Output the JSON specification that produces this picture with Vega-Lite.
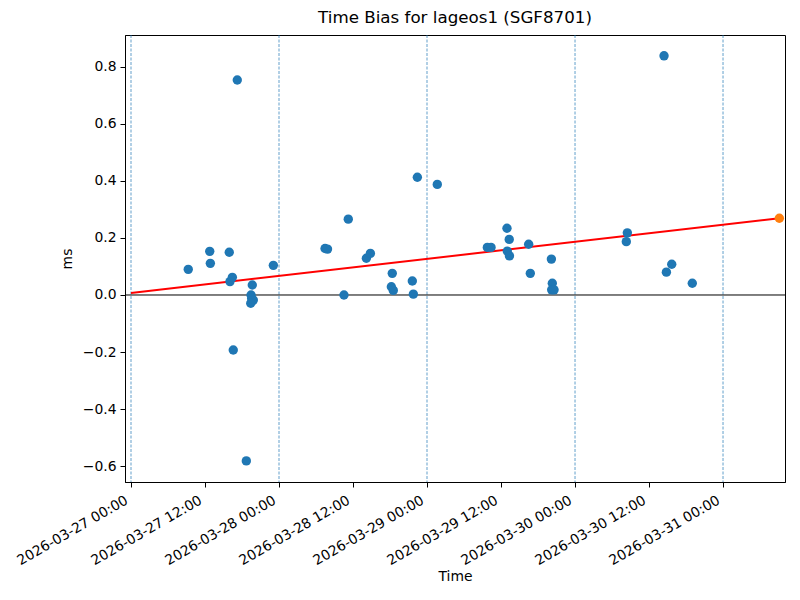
{
  "$schema": "https://vega.github.io/schema/vega-lite/v6.json",
  "width": 660,
  "height": 447,
  "autosize": "none",
  "padding": {"left": 125, "top": 35, "right": 15, "bottom": 118},
  "background": "white",
  "title": {"text": "Time Bias for lageos1 (SGF8701)", "font": "DejaVu Sans", "fontSize": 16.7, "fontWeight": "normal", "color": "black", "offset": 8, "anchor": "middle"},
  "config": {
    "view": {"stroke": "black", "strokeWidth": 1},
    "axis": {"grid": false, "domainColor": "black", "tickColor": "black", "tickSize": 5, "labelColor": "black", "titleColor": "black", "labelFont": "DejaVu Sans", "titleFont": "DejaVu Sans", "labelFontSize": 13.9, "titleFontSize": 13.9, "titleFontWeight": "normal", "labelPadding": 4}
  },
  "datasets": {
    "pts": [
      {"t": "2026-03-27T09:17:00Z", "v": 0.090},
      {"t": "2026-03-27T12:46:00Z", "v": 0.153},
      {"t": "2026-03-27T12:52:00Z", "v": 0.111},
      {"t": "2026-03-27T15:56:00Z", "v": 0.150},
      {"t": "2026-03-27T16:03:00Z", "v": 0.047},
      {"t": "2026-03-27T16:26:00Z", "v": 0.062},
      {"t": "2026-03-27T16:35:00Z", "v": -0.193},
      {"t": "2026-03-27T17:14:00Z", "v": 0.754},
      {"t": "2026-03-27T18:42:00Z", "v": -0.582},
      {"t": "2026-03-27T19:28:00Z", "v": 0.000},
      {"t": "2026-03-27T19:34:00Z", "v": -0.012},
      {"t": "2026-03-27T19:50:00Z", "v": -0.018},
      {"t": "2026-03-27T19:25:00Z", "v": -0.029},
      {"t": "2026-03-27T19:40:00Z", "v": 0.035},
      {"t": "2026-03-27T23:05:00Z", "v": 0.104},
      {"t": "2026-03-28T07:28:00Z", "v": 0.163},
      {"t": "2026-03-28T07:52:00Z", "v": 0.161},
      {"t": "2026-03-28T10:32:00Z", "v": 0.000},
      {"t": "2026-03-28T11:14:00Z", "v": 0.266},
      {"t": "2026-03-28T14:10:00Z", "v": 0.129},
      {"t": "2026-03-28T14:49:00Z", "v": 0.146},
      {"t": "2026-03-28T18:13:00Z", "v": 0.029},
      {"t": "2026-03-28T18:22:00Z", "v": 0.076},
      {"t": "2026-03-28T18:32:00Z", "v": 0.016},
      {"t": "2026-03-28T21:37:00Z", "v": 0.049},
      {"t": "2026-03-28T21:47:00Z", "v": 0.003},
      {"t": "2026-03-28T22:26:00Z", "v": 0.413},
      {"t": "2026-03-29T01:40:00Z", "v": 0.388},
      {"t": "2026-03-29T09:47:00Z", "v": 0.167},
      {"t": "2026-03-29T10:23:00Z", "v": 0.167},
      {"t": "2026-03-29T12:58:00Z", "v": 0.234},
      {"t": "2026-03-29T13:01:00Z", "v": 0.154},
      {"t": "2026-03-29T13:20:00Z", "v": 0.195},
      {"t": "2026-03-29T13:22:00Z", "v": 0.137},
      {"t": "2026-03-29T16:29:00Z", "v": 0.178},
      {"t": "2026-03-29T16:45:00Z", "v": 0.076},
      {"t": "2026-03-29T20:10:00Z", "v": 0.126},
      {"t": "2026-03-29T20:19:00Z", "v": 0.041},
      {"t": "2026-03-29T20:13:00Z", "v": 0.018},
      {"t": "2026-03-29T20:36:00Z", "v": 0.018},
      {"t": "2026-03-30T08:19:00Z", "v": 0.187},
      {"t": "2026-03-30T08:29:00Z", "v": 0.218},
      {"t": "2026-03-30T14:26:00Z", "v": 0.839},
      {"t": "2026-03-30T14:49:00Z", "v": 0.080},
      {"t": "2026-03-30T15:41:00Z", "v": 0.108},
      {"t": "2026-03-30T19:01:00Z", "v": 0.041}
    ],
    "pred": [
      {"t": "2026-03-31T09:08:00Z", "v": 0.269}
    ],
    "fit": [
      {"t": "2026-03-27T00:00:00Z", "v": 0.007},
      {"t": "2026-03-31T09:08:00Z", "v": 0.269}
    ],
    "days": [
      {"t": "2026-03-27T00:00:00Z"},
      {"t": "2026-03-28T00:00:00Z"},
      {"t": "2026-03-29T00:00:00Z"},
      {"t": "2026-03-30T00:00:00Z"},
      {"t": "2026-03-31T00:00:00Z"}
    ],
    "zero": [
      {"v": 0}
    ]
  },
  "layer": [
    {
      "data": {"name": "days"},
      "mark": {"type": "rule", "color": "#1f77b4", "strokeWidth": 0.7, "strokeDash": [3, 1.5], "opacity": 1},
      "encoding": {
        "x": {"field": "t", "type": "temporal"}
      }
    },
    {
      "data": {"name": "zero"},
      "mark": {"type": "rule", "color": "black", "strokeWidth": 1},
      "encoding": {"y": {"field": "v", "type": "quantitative"}}
    },
    {
      "data": {"name": "fit"},
      "mark": {"type": "line", "color": "red", "strokeWidth": 2},
      "encoding": {
        "x": {"field": "t", "type": "temporal"},
        "y": {"field": "v", "type": "quantitative"}
      }
    },
    {
      "data": {"name": "pts"},
      "mark": {"type": "point", "filled": true, "size": 88, "color": "#1f77b4", "opacity": 1},
      "encoding": {
        "x": {"field": "t", "type": "temporal",
              "scale": {"type": "utc", "nice": false, "domain": [{"year": 2026, "month": 3, "date": 26, "hours": 23, "minutes": 1, "seconds": 36, "utc": true}, {"year": 2026, "month": 3, "date": 31, "hours": 10, "minutes": 3, "utc": true}]},
              "axis": {"title": "Time", "format": "%Y-%m-%d %H:%M",
                       "values": [
                         {"year": 2026, "month": 3, "date": 27, "hours": 0, "utc": true},
                         {"year": 2026, "month": 3, "date": 27, "hours": 12, "utc": true},
                         {"year": 2026, "month": 3, "date": 28, "hours": 0, "utc": true},
                         {"year": 2026, "month": 3, "date": 28, "hours": 12, "utc": true},
                         {"year": 2026, "month": 3, "date": 29, "hours": 0, "utc": true},
                         {"year": 2026, "month": 3, "date": 29, "hours": 12, "utc": true},
                         {"year": 2026, "month": 3, "date": 30, "hours": 0, "utc": true},
                         {"year": 2026, "month": 3, "date": 30, "hours": 12, "utc": true},
                         {"year": 2026, "month": 3, "date": 31, "hours": 0, "utc": true}
                       ],
                       "labelAngle": -30, "labelAlign": "right", "labelBaseline": "top", "labelOverlap": false, "labelFlush": false, "labelOffset": -8, "labelPadding": 6, "titlePadding": 2}},
        "y": {"field": "v", "type": "quantitative",
              "scale": {"domain": [-0.656, 0.912], "nice": false, "zero": false},
              "axis": {"title": "ms", "values": [-0.6, -0.4, -0.2, 0, 0.2, 0.4, 0.6, 0.8], "format": ".1f", "titlePadding": 8, "labelFlush": false}}
      }
    },
    {
      "data": {"name": "pred"},
      "mark": {"type": "point", "filled": true, "size": 88, "color": "#ff7f0e", "opacity": 1},
      "encoding": {
        "x": {"field": "t", "type": "temporal"},
        "y": {"field": "v", "type": "quantitative"}
      }
    }
  ]
}
